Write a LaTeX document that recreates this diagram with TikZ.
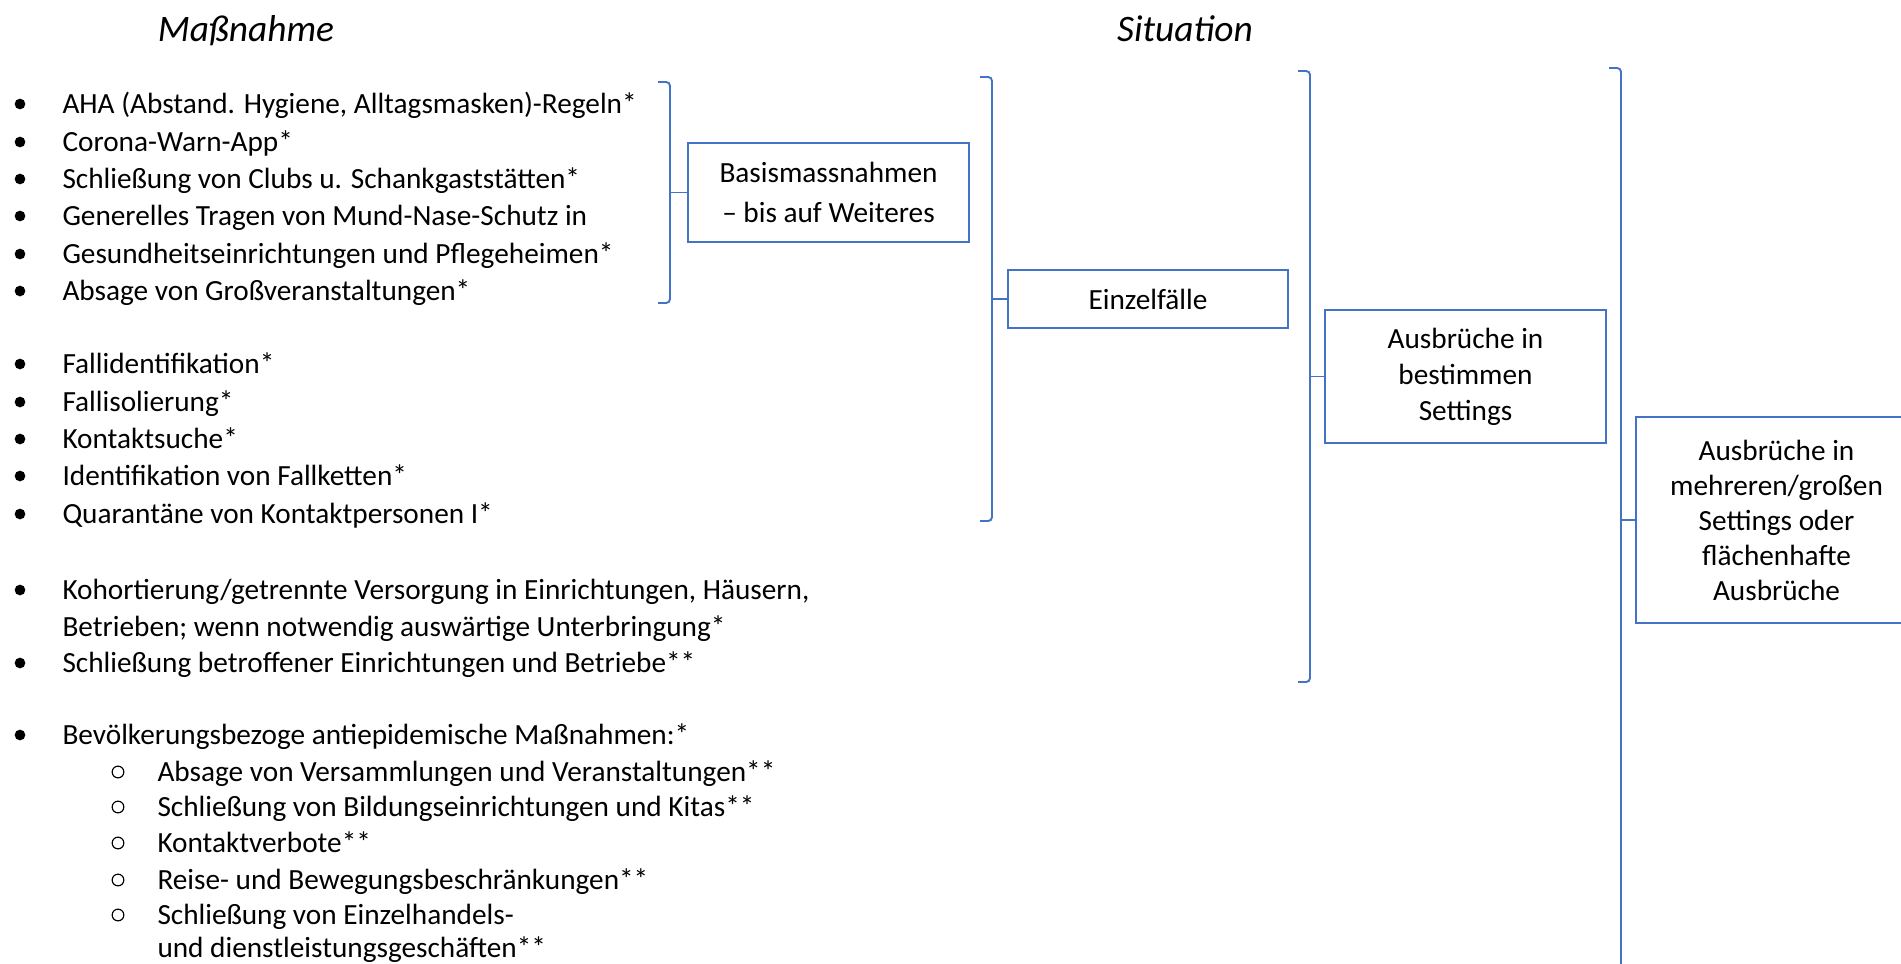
\documentclass[tikz,border=0pt]{standalone}
\usepackage{fontspec}
\setmainfont{Carlito}
\definecolor{wordblau}{HTML}{4472C4}
\begin{document}
\begin{tikzpicture}[x = 0.3929pt, y = -0.3929pt,
  zeile/.style = {anchor = base west, inner sep = 0pt, font = \fontsize{11.5}{13.5}\selectfont},
  kopf/.style = {anchor = base, inner sep = 0pt, font = \fontsize{14.7}{17}\selectfont\itshape},
  kasten/.style = {draw = wordblau, line width = 0.75pt, align = center, inner sep = 0pt},
  klammer/.style = {draw = wordblau, line width = 0.75pt, rounded corners = 1.5pt}]
\pgfmathsetlengthmacro\px{0.3929pt};
\useasboundingbox (0,0) rectangle (1901,963);
\clip (0,0) rectangle (1901,963);
\node[kopf] (hmass) at (246,41) {Maßnahme};
\node[kopf] (hsit) at (1185,41) {Situation};
% Aufzaehlung
\foreach \y in {104,142,179,216,254,291,364,402,439,476,514,590,663,735} \fill (20,\y) circle[radius = 2.1pt];
\foreach \y in {772,807,843,880,915} \draw[line width = 0.45pt] (118,\y) circle[radius = 2.3pt];
\foreach \i/\y/\t in {1/113/{AHA (Abstand. Hygiene, Alltagsmasken)-Regeln*}, 2/151/{Corona-Warn-App*},
  3/188/{Schließung von Clubs u. Schankgaststätten*}, 4/225/{Generelles Tragen von Mund-Nase-Schutz in},
  5/263/{Gesundheitseinrichtungen und Pflegeheimen*}, 6/300/{Absage von Großveranstaltungen*},
  7/373/{Fallidentifikation*}, 8/411/{Fallisolierung*}, 9/448/{Kontaktsuche*},
  10/485/{Identifikation von Fallketten*}, 11/523/{Quarantäne von Kontaktpersonen I*},
  12/599/{Kohortierung/getrennte Versorgung in Einrichtungen, Häusern,},
  13/636/{Betrieben; wenn notwendig auswärtige Unterbringung*},
  14/672/{Schließung betroffener Einrichtungen und Betriebe**},
  15/744/{Bevölkerungsbezoge antiepidemische Maßnahmen:*}}
  \node[zeile] (m\i) at (62,\y) {\t};
\foreach \i/\y/\t in {1/781/{Absage von Versammlungen und Veranstaltungen**},
  2/816/{Schließung von Bildungseinrichtungen und Kitas**}, 3/852/{Kontaktverbote**},
  4/889/{Reise- und Bewegungsbeschränkungen**}, 5/924/{Schließung von Einzelhandels-},
  6/957/{und dienstleistungsgeschäften**}}
  \node[zeile] (u\i) at (157,\y) {\t};
% Situationen
\node[kasten, minimum width = 281*\px, minimum height = 99*\px, font = \fontsize{11.5}{15.7}\selectfont] (basis) at (828.5,192.5) {Basismassnahmen\\– bis auf Weiteres};
\node[kasten, minimum width = 280*\px, minimum height = 58*\px, font = \fontsize{11.5}{14}\selectfont] (einzel) at (1148,299) {Einzelfälle};
\node[kasten, minimum width = 281*\px, minimum height = 133*\px, font = \fontsize{11.5}{14.1}\selectfont] (setting) at (1465.5,376.5) {Ausbrüche in\\bestimmen\\Settings};
\node[kasten, minimum width = 281*\px, minimum height = 206*\px, font = \fontsize{11.5}{13.75}\selectfont] (flaeche) at (1776.5,520) {Ausbrüche in\\mehreren/großen\\Settings oder\\flächenhafte\\Ausbrüche};
% Klammern
\foreach \k/\x/\o/\u/\z in {1/670/82/303/basis, 2/992/77/521/einzel, 3/1310/71/682/setting, 4/1621/68/970/flaeche} {
  \coordinate (k\k o) at (\x,\o);
  \coordinate (k\k u) at (\x,\u);
  \draw[klammer] ([xshift = -12*\px]k\k o) -- (k\k o) -- (k\k u) -- ([xshift = -12*\px]k\k u);
  \draw[klammer] (\z.west -| k\k o) -- (\z.west);
}
\end{tikzpicture}
\end{document}
